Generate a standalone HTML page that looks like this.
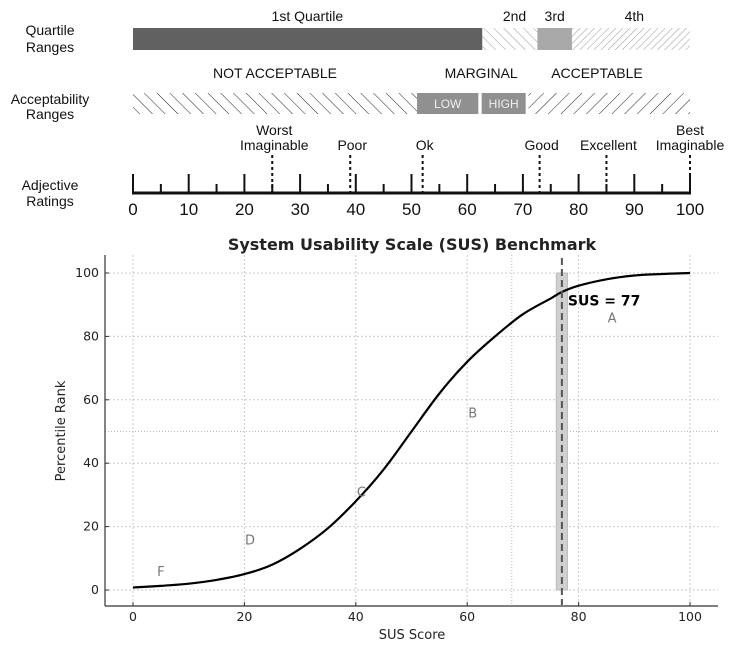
<!DOCTYPE html>
<html><head><meta charset="utf-8"><style>
body{margin:0;background:#fff;}
svg{display:block;font-family:"DejaVu Sans","Liberation Sans",sans-serif;}
.lbl{font-family:"Liberation Sans",sans-serif;font-size:14px;fill:#111;}
</style></head><body>
<svg id="c" width="747" height="670" viewBox="0 0 747 670">
<defs>
<pattern id="hb" patternUnits="userSpaceOnUse" width="9" height="9" patternTransform="rotate(-45)"><line x1="0" y1="0" x2="0" y2="9" stroke="#222" stroke-width="1"/></pattern>
<pattern id="hf" patternUnits="userSpaceOnUse" width="9" height="9" patternTransform="rotate(45)"><line x1="0" y1="0" x2="0" y2="9" stroke="#222" stroke-width="1"/></pattern>
<pattern id="hb2" patternUnits="userSpaceOnUse" width="7" height="7" patternTransform="rotate(-45)"><line x1="0" y1="0" x2="0" y2="7" stroke="#999" stroke-width="1"/></pattern>
<pattern id="hf2" patternUnits="userSpaceOnUse" width="5" height="5" patternTransform="rotate(45)"><line x1="0" y1="0" x2="0" y2="5" stroke="#999" stroke-width="1"/></pattern>
</defs>
<g id="top"></g>
<g id="plot"></g>
</svg>
<script>
// header data
const quartileEdges=[0,62.7,72.6,78.8,100];
const quartileNames=["1st Quartile","2nd","3rd","4th"];
const acceptEdges=[0,51,62,62.6,70.5,71,100];
const adjNames=["Worst|Imaginable","Poor","Ok","Good","Excellent","Best|Imaginable"];
const adjValues=[25,39,52,73,85,100];
// plot data
const susScores=[0,5,10,15,20,25,30,35,40,45,50,55,60,65,70,75,77,80,85,90,95,100];
const percentiles=[0.8,1.3,2,3.2,5,8,13,19.5,28,38,50,62,72,80,87,92,94,96,98,99.2,99.7,100];
const xTicks=[0,20,40,60,80,100];
const yTicks=[0,20,40,60,80,100];
const grades=["F","D","C","B","A"];
const gradeX=[5,21,41,61,86];
const gradeY=[6,16,31,56,86];
const susValue=77;

const NS="http://www.w3.org/2000/svg";
function mk(p,t,a,txt){const e=document.createElementNS(NS,t);for(const k in a)e.setAttribute(k,a[k]);if(txt!==undefined)e.textContent=txt;p.appendChild(e);return e;}
const T=document.getElementById('top'),P=document.getElementById('plot');
const hx=v=>133+v*5.57;
[["Quartile",35],["Ranges",52],["Acceptability",104],["Ranges",119],["Adjective",190],["Ratings",206]].forEach(function(r){
 const e=mk(T,'text',{x:50,y:r[1],'text-anchor':'middle',class:'lbl'},r[0]);
 
 
});
const qFill=["#616161","url(#hb2)","#a8a8a8","url(#hf2)"];
for(let i=0;i<4;i++){
 const r=mk(T,'rect',{x:hx(quartileEdges[i]),y:28,width:hx(quartileEdges[i+1])-hx(quartileEdges[i]),height:22,fill:qFill[i]});
 
 
}
[[31.3,"1st Quartile"],[68.5,"2nd"],[75.7,"3rd"],[90,"4th"]].forEach(function(q,i){
 const e=mk(T,'text',{x:hx(q[0]),y:21,'text-anchor':'middle',class:'lbl'},quartileNames[i]);
 
 
});
let r=mk(T,'rect',{x:hx(acceptEdges[0]),y:93,width:hx(acceptEdges[1])-hx(acceptEdges[0]),height:21,fill:'url(#hb)'});


r=mk(T,'rect',{x:hx(acceptEdges[1]),y:93,width:hx(acceptEdges[2])-hx(acceptEdges[1]),height:21,fill:'#909090'});


r=mk(T,'rect',{x:hx(acceptEdges[3]),y:93,width:hx(acceptEdges[4])-hx(acceptEdges[3]),height:21,fill:'#909090'});


r=mk(T,'rect',{x:hx(acceptEdges[5]),y:93,width:hx(acceptEdges[6])-hx(acceptEdges[5]),height:21,fill:'url(#hf)'});


mk(T,'text',{x:(hx(51)+hx(62))/2,y:108,'text-anchor':'middle',class:'lbl',style:'fill:#eee;font-size:12px'},"LOW");
mk(T,'text',{x:(hx(62.6)+hx(70.5))/2,y:108,'text-anchor':'middle',class:'lbl',style:'fill:#eee;font-size:12px'},"HIGH");
[[25.5,"NOT ACCEPTABLE"],[62.5,"MARGINAL"],[83.3,"ACCEPTABLE"]].forEach(function(a){
 const e=mk(T,'text',{x:hx(a[0]),y:78,'text-anchor':'middle',class:'lbl'},a[1]);
 
 
});
mk(T,'line',{x1:hx(0)-1,y1:193,x2:hx(100)+1,y2:193,stroke:'#111','stroke-width':3});
for(let v=0;v<=100;v+=5){
 const major=v%10===0;
 mk(T,'line',{x1:hx(v),y1:major?174:184,x2:hx(v),y2:193,stroke:'#111','stroke-width':2});
 if(major){const e=mk(T,'text',{x:hx(v),y:215,'text-anchor':'middle',class:'lbl',style:'font-size:17px'},String(v));
 
 }
}
adjValues.forEach(function(v,i){
 mk(T,'line',{x1:hx(v),y1:155,x2:hx(v),y2:192,stroke:'#111','stroke-width':2,'stroke-dasharray':'3,3'});
 const parts=adjNames[i].split('|');
 parts.forEach(function(p,j){
  const e=mk(T,'text',{x:hx(v)+(v===100?0:2),y:150-(parts.length-1-j)*15,'text-anchor':'middle',class:'lbl'},p);
  
  
 });
});
const px=v=>133+v*5.57, py=v=>590-v*3.17;
mk(P,'text',{x:412,y:250,'text-anchor':'middle','font-size':16,'font-weight':'bold',fill:'#222'},"System Usability Scale (SUS) Benchmark");
xTicks.forEach(function(v){mk(P,'line',{x1:px(v),y1:255,x2:px(v),y2:605,stroke:'#ccc','stroke-dasharray':'2,2'});});
yTicks.forEach(function(v){mk(P,'line',{x1:105,y1:py(v),x2:718,y2:py(v),stroke:'#ccc','stroke-dasharray':'2,2'});});
mk(P,'line',{x1:px(68),y1:255,x2:px(68),y2:605,stroke:'#bbb','stroke-dasharray':'1,2'});
mk(P,'line',{x1:105,y1:py(50),x2:718,y2:py(50),stroke:'#bbb','stroke-dasharray':'1,2'});
r=mk(P,'rect',{x:px(susValue-1),y:py(100),width:px(susValue+1)-px(susValue-1),height:py(0)-py(100),fill:'#d0d0d0',stroke:'#bbb'});


// smooth path (Catmull-Rom)
const pts=susScores.map((s,i)=>[px(s),py(percentiles[i])]);
let d='M'+pts[0][0].toFixed(1)+','+pts[0][1].toFixed(1);
for(let i=0;i<pts.length-1;i++){
 const p0=pts[Math.max(0,i-1)],p1=pts[i],p2=pts[i+1],p3=pts[Math.min(pts.length-1,i+2)];
 const c1=[p1[0]+(p2[0]-p0[0])/6,p1[1]+(p2[1]-p0[1])/6];
 const c2=[p2[0]-(p3[0]-p1[0])/6,p2[1]-(p3[1]-p1[1])/6];
 d+='C'+c1[0].toFixed(1)+','+c1[1].toFixed(1)+' '+c2[0].toFixed(1)+','+c2[1].toFixed(1)+' '+p2[0].toFixed(1)+','+p2[1].toFixed(1);
}
const cur=mk(P,'path',{d:d,fill:'none',stroke:'#000','stroke-width':2.2,'stroke-linejoin':'round'});


const sl=mk(P,'line',{x1:px(susValue),y1:258,x2:px(susValue),y2:605,stroke:'#555','stroke-width':2,'stroke-dasharray':'7,4'});


mk(P,'text',{x:px(susValue)+6,y:py(91)+4,'font-size':14,'font-weight':'bold',fill:'#000'},"SUS = "+susValue);
grades.forEach(function(g,i){
 const e=mk(P,'text',{x:px(gradeX[i]),y:py(gradeY[i])+5,'text-anchor':'middle','font-size':13,fill:'#777'},g);
 
 
});
mk(P,'line',{x1:105,y1:255,x2:105,y2:606,stroke:'#333','stroke-width':1.2});
mk(P,'line',{x1:105,y1:606,x2:718,y2:606,stroke:'#333','stroke-width':1.2});
xTicks.forEach(function(v){mk(P,'line',{x1:px(v),y1:606,x2:px(v),y2:602,stroke:'#333'});
 const e=mk(P,'text',{x:px(v),y:621,'text-anchor':'middle','font-size':12.5,fill:'#222'},String(v));
 
 });
yTicks.forEach(function(v){mk(P,'line',{x1:105,y1:py(v),x2:109,y2:py(v),stroke:'#333'});
 const e=mk(P,'text',{x:99,y:py(v)+4,'text-anchor':'end','font-size':12.5,fill:'#222'},String(v));
 
 });
let e=mk(P,'text',{x:412,y:639,'text-anchor':'middle','font-size':13,fill:'#222'},"SUS Score");


e=mk(P,'text',{x:0,y:0,'text-anchor':'middle','font-size':13,fill:'#222',transform:'translate(65,431) rotate(-90)'},"Percentile Rank");


</script>
</body></html>
